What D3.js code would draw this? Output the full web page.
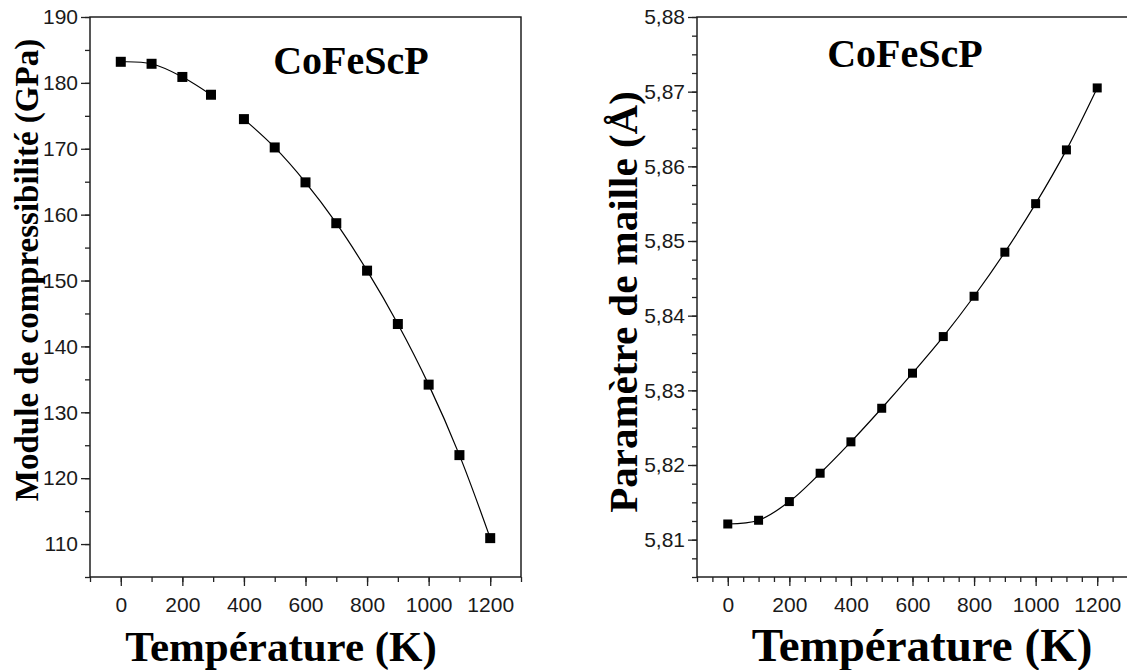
<!DOCTYPE html>
<html>
<head>
<meta charset="utf-8">
<script src="https://cdn.jsdelivr.net/npm/d3@7/dist/d3.min.js"></script>
<style>
  html, body { margin:0; padding:0; background:#fff; }
  svg { display:block; }
  .tick text { font-family:"Liberation Sans Narrow","Arial Narrow","Liberation Sans",Arial,sans-serif; font-size:21px; fill:#1a1a1a; }
  .ttl { font-family:"Liberation Serif","Times New Roman",serif; font-weight:bold; fill:#000; }
</style>
</head>
<body>
<svg id="chart" width="1127" height="670"></svg>
<script>
// data
const compound = 'CoFeScP';
const xLabel = 'Température (K)';

// left: bulk modulus vs temperature (two drawn pieces, gap between 293 K and 400 K)
const bulkTempA = [0, 100, 200, 293];
const bulkValA  = [183.2, 182.9, 180.9, 178.2];
const bulkTempB = [400, 500, 600, 700, 800, 900, 1000, 1100, 1200];
const bulkValB  = [174.5, 170.2, 164.9, 158.7, 151.5, 143.4, 134.2, 123.5, 110.9];

// right: lattice parameter vs temperature
const latTemp = [0, 100, 200, 300, 400, 500, 600, 700, 800, 900, 1000, 1100, 1200];
const latVal  = [5.8121, 5.8126, 5.8151, 5.8189, 5.8231, 5.8276, 5.8323, 5.8372, 5.8426, 5.8485, 5.8550, 5.8622, 5.8705];

const xMajor = [0, 200, 400, 600, 800, 1000, 1200];
const bulkTicks = [110, 120, 130, 140, 150, 160, 170, 180, 190];
const latTicks  = [5.81, 5.82, 5.83, 5.84, 5.85, 5.86, 5.87, 5.88];

const fr = d3.formatLocale({decimal: ',', thousands: '', grouping: [3], currency: ['', '']});

const svg = d3.select('#chart');

function range(a, b, step){ const out=[]; for(let v=a; v<=b+step*1e-6; v+=step) out.push(+v.toFixed(6)); return out; }

function panel(cfg){
  const x = d3.scaleLinear().domain([-100, 1300]).range([cfg.left, cfg.right]);
  const y = d3.scaleLinear().domain(cfg.yDomain).range([577, 17]);
  const g = svg.append('g');

  // frame (top + right borders)
  g.append('rect').attr('x', cfg.left).attr('y', 17)
    .attr('width', cfg.right - cfg.left).attr('height', 560)
    .attr('fill', 'none').attr('stroke', '#111').attr('stroke-width', 1.4);

  // minor ticks
  g.append('g').attr('transform', 'translate(0,577)')
    .call(d3.axisBottom(x).tickValues(cfg.xMinor).tickSize(5).tickFormat(''))
    .call(a => a.select('.domain').remove());
  g.append('g').attr('transform', `translate(${cfg.left},0)`)
    .call(d3.axisLeft(y).tickValues(cfg.yMinor).tickSize(5).tickFormat(''))
    .call(a => a.select('.domain').remove());

  // major ticks + labels
  g.append('g').attr('transform', 'translate(0,577)')
    .call(d3.axisBottom(x).tickValues(xMajor).tickSize(9).tickPadding(11).tickFormat(d3.format('d')))
    .call(a => a.select('.domain').remove());
  g.append('g').attr('transform', `translate(${cfg.left},0)`)
    .call(d3.axisLeft(y).tickValues(cfg.yMajor).tickSize(9).tickPadding(3).tickFormat(cfg.fmt))
    .call(a => a.select('.domain').remove());

  g.selectAll('.tick line').attr('stroke', '#222').attr('stroke-width', 1.3);

  const line = d3.line().x(d => x(d[0])).y(d => y(d[1])).curve(d3.curveCatmullRom);
  cfg.series.forEach(s => {
    const pts = d3.zip(s.t, s.v);
    g.append('path').datum(pts).attr('d', line)
      .attr('fill', 'none').attr('stroke', '#000').attr('stroke-width', 1.2);
    g.selectAll(null).data(pts).join('rect')
      .attr('x', d => x(d[0]) - cfg.mk / 2).attr('y', d => y(d[1]) - cfg.mk / 2)
      .attr('width', cfg.mk).attr('height', cfg.mk).attr('fill', '#000');
  });

  g.append('text').attr('class', 'ttl').attr('x', cfg.nameX).attr('y', cfg.nameY)
    .attr('text-anchor', 'middle').attr('font-size', 40).text(compound);

  g.append('text').attr('class', 'ttl').attr('x', cfg.xTitleX).attr('y', 661)
    .attr('text-anchor', 'middle').attr('font-size', cfg.xTitleSize).text(xLabel);

  g.append('text').attr('class', 'ttl')
    .attr('transform', `translate(${cfg.yTitleX},${cfg.yTitleY}) rotate(-90)`)
    .attr('text-anchor', 'middle').attr('font-size', cfg.yTitleSize).text(cfg.yTitle);
}

panel({
  left: 90, right: 521,
  yDomain: [105, 190],
  xMinor: range(-100, 1300, 100),
  yMinor: range(105, 190, 5),
  yMajor: bulkTicks,
  fmt: d3.format('d'),
  series: [{t: bulkTempA, v: bulkValA}, {t: bulkTempB, v: bulkValB}],
  mk: 10,
  nameX: 351, nameY: 74,
  xTitleX: 281, xTitleSize: 43,
  yTitleX: 38, yTitleY: 270, yTitleSize: 33,
  yTitle: 'Module de compressibilité (GPa)'
});

panel({
  left: 697, right: 1128,
  yDomain: [5.805, 5.88],
  xMinor: range(-100, 1300, 50),
  yMinor: range(5.805, 5.88, 0.0025),
  yMajor: latTicks,
  fmt: fr.format('.2f'),
  series: [{t: latTemp, v: latVal}],
  mk: 9,
  nameX: 905, nameY: 67,
  xTitleX: 922, xTitleSize: 47,
  yTitleX: 637, yTitleY: 302, yTitleSize: 41,
  yTitle: 'Paramètre de maille (Å)'
});
</script>
</body>
</html>
